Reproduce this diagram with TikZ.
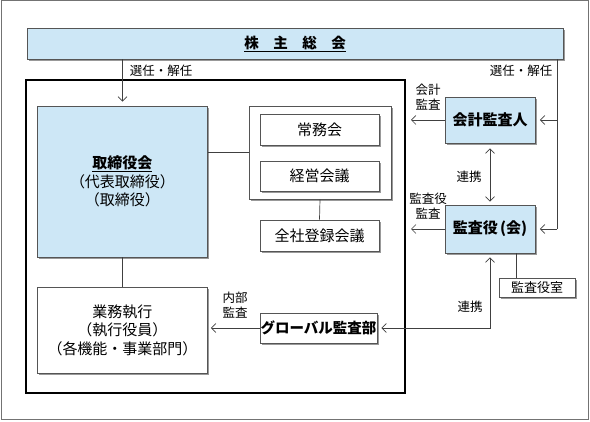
\documentclass[tikz,border=0pt]{standalone}
\usepackage{fontspec}
\setmainfont{Noto Sans CJK JP}
\usetikzlibrary{arrows.meta,shadows}
\definecolor{lblue}{HTML}{CDE7F6}
\definecolor{edge}{HTML}{555555}
\definecolor{conn}{HTML}{404040}
\tikzset{
  box/.style={draw=edge,line width=0.7pt,fill=white,inner sep=0pt,align=center,
    font=\fontsize{15}{18.5}\selectfont,
    drop shadow={shadow xshift=1.6pt,shadow yshift=-1.6pt,fill=black!40,opacity=1}},
  bluebox/.style={box,fill=lblue},
  lbl/.style={inner sep=0pt,align=center,font=\fontsize{12.5}{15}\selectfont},
  conn/.style={draw=conn,line width=0.7pt},
  arr/.style={conn,-{Straight Barb[length=4.5pt,width=9pt,line width=0.7pt]}},
  arrb/.style={conn,{Straight Barb[length=4.5pt,width=9pt,line width=0.7pt]}-{Straight Barb[length=4.5pt,width=9pt,line width=0.7pt]}}
}
\begin{document}
\begin{tikzpicture}[x=1pt,y=-1pt]
\useasboundingbox (0,0) rectangle (590,422);
% outer frame
\node[draw=black!55,line width=1pt,minimum width=587pt,minimum height=419pt,inner sep=0pt] (frame) at (294.5,210.5) {};
% organisation frame
\node[draw=black,line width=1.3pt,minimum width=379pt,minimum height=313pt,inner sep=0pt] (org) at (215.5,236.5) {};
% shareholders
\node[bluebox,minimum width=536pt,minimum height=31pt] (bar) at (295,43.5)
  {\fontsize{14.5}{16}\selectfont\bfseries\underline{株　主　総　会}};
% board
\node[bluebox,minimum width=170pt,minimum height=151pt] (board) at (122.5,181.5)
  {{\bfseries\underline{取締役会}}\\（代表取締役）\\（取締役）};
% group of meetings
\node[box,minimum width=142pt,minimum height=93pt] (group) at (320,152.5) {};
\node[box,minimum width=119pt,minimum height=31pt] (jomu) at (319.5,129.5) {常務会};
\node[box,minimum width=119pt,minimum height=30pt] (keiei) at (319.5,176) {経営会議};
\node[box,minimum width=119pt,minimum height=31pt] (zensha) at (319.5,235.5) {全社登録会議};
% execution
\node[box,minimum width=170pt,minimum height=86pt] (gyomu) at (122.5,330)
  {業務執行\\（執行役員）\\（各機能・事業部門）};
\node[box,minimum width=117pt,minimum height=30pt] (global) at (318.5,328)
  {\fontsize{14.5}{16}\selectfont\bfseries グローバル監査部};
% auditors
\node[bluebox,minimum width=90pt,minimum height=46pt] (kaikei) at (490,120)
  {\fontsize{15}{16}\selectfont\bfseries 会計監査人};
\node[bluebox,minimum width=90pt,minimum height=48pt] (kansa) at (490,229)
  {\fontsize{15}{16}\selectfont\bfseries 監査役\,(会)};
\node[box,minimum width=76pt,minimum height=19pt,font=\fontsize{13}{15}\selectfont] (shitsu) at (537,287.5) {監査役室};
% labels
\node[lbl] (l1) at (161,71) {選任・解任};
\node[lbl] (l2) at (521,71) {選任・解任};
\node[lbl] (l3) at (428,97.5) {会計\\監査};
\node[lbl] (l4) at (428,206.5) {監査役\\監査};
\node[lbl] (l5) at (469,177) {連携};
\node[lbl] (l6) at (235,305) {内部\\監査};
\node[lbl] (l7) at (470,307) {連携};
% coordinates for free ends
\coordinate (rx) at (557,0);
\coordinate (lx) at (411,0);
% connectors
\draw[arr] (board.north |- bar.south) -- ([yshift=4pt]board.north);
\draw[conn] (bar.south -| rx) -- (kansa.east -| rx);
\draw[arr] (kaikei.east -| rx) -- ([xshift=4.5pt]kaikei.east);
\draw[arr] (kansa.east -| rx) -- ([xshift=4.5pt]kansa.east);
\draw[arr] (kaikei.west) -- (kaikei.west -| lx);
\draw[arr] (kansa.west) -- (kansa.west -| lx);
\draw[arrb] ([yshift=-5pt]kaikei.south) -- ([yshift=3pt]kansa.north);
\draw[conn] (board.east |- group.west) -- (group.west);
\draw[conn] (group.south) -- (zensha.north);
\draw[conn] (board.south) -- (gyomu.north);
\draw[arr] (global.west) -- ([xshift=3pt]global.west -| gyomu.east);
\draw[arrb] ([xshift=4pt]global.east) -| ([yshift=-4pt]kansa.south);
\draw[conn] ([xshift=26pt]kansa.south) -- ([xshift=26pt]kansa.south |- shitsu.north);
\end{tikzpicture}
\end{document}
